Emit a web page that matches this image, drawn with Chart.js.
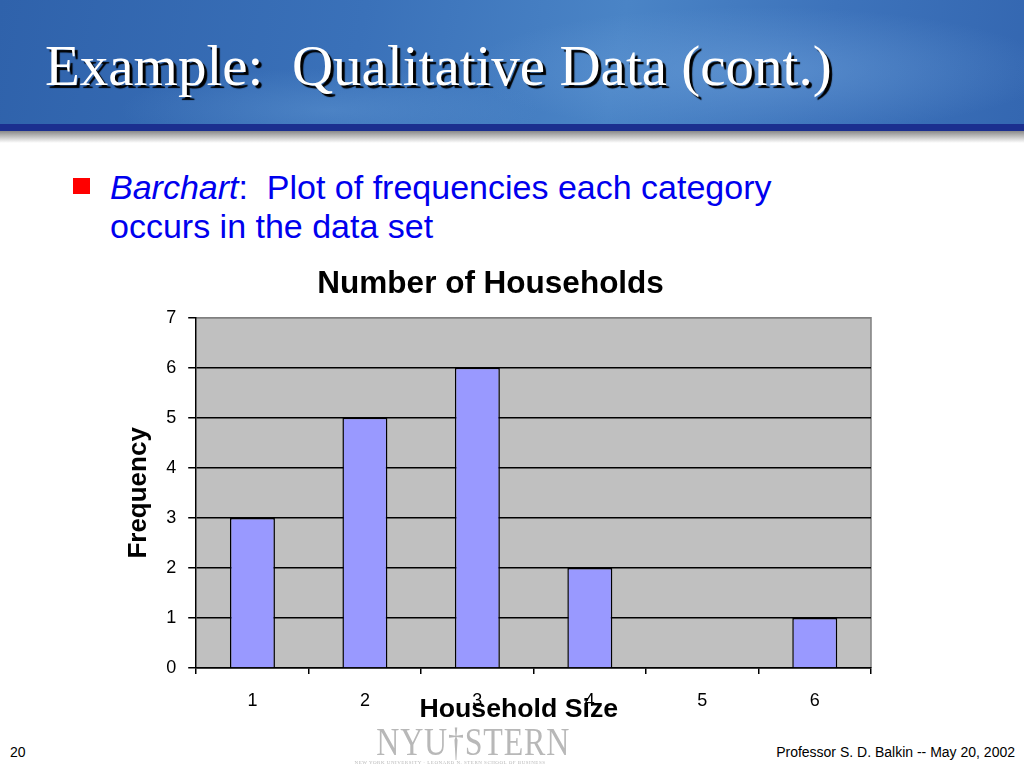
<!DOCTYPE html>
<html>
<head>
<meta charset="utf-8">
<script src="https://cdn.jsdelivr.net/npm/chart.js@4"></script>
<style>
  html, body { margin: 0; padding: 0; }
  body { width: 1024px; height: 768px; position: relative; overflow: hidden; background: #fff; font-family: Arial, "Liberation Sans", sans-serif; }
  #header { position: absolute; left: 0; top: 0; width: 1024px; height: 124px;
    background:
      radial-gradient(ellipse 420px 90px at 760px 70px, rgba(120,170,225,0.45), rgba(120,170,225,0) 70%),
      radial-gradient(ellipse 300px 60px at 330px 110px, rgba(110,165,220,0.35), rgba(110,165,220,0) 70%),
      linear-gradient(100deg, #2f62ab 0%, #3a71b9 35%, #4a84c6 60%, #3d73bb 80%, #3467b1 100%); }
  #band { position: absolute; left: 0; top: 124px; width: 1024px; height: 7px; background: #1b2f8f; }
  #shadow { position: absolute; left: 0; top: 131px; width: 1024px; height: 12px; background: linear-gradient(#8a8a8a, #ffffff); }
  #title { position: absolute; left: 45px; top: 33px; margin: 0; font-family: "Liberation Serif", "Times New Roman", serif;
    font-weight: normal; font-size: 57px; color: #fff; text-shadow: 3px 3px 1px #000; white-space: pre; }
  #bullet { position: absolute; left: 73px; top: 178px; width: 17px; height: 16px; background: #ff0000; }
  #text { position: absolute; left: 110px; top: 168px; font-size: 34px; line-height: 39px; color: #0000ee; }
  #wrap { position: absolute; left: 104px; top: 262px; width: 770px; height: 468px; }
  #pagenum { position: absolute; left: 10px; top: 744px; font-size: 14px; color: #000; }
  #credit { position: absolute; right: 9px; top: 744px; font-size: 14px; color: #000; }
  #logo { position: absolute; left: 352px; top: 724px; width: 196px; text-align: center; color: #b8b8b8; font-family: "Liberation Serif", serif; }
  #logo .big { font-size: 40px; line-height: 36px; letter-spacing: 1px; transform: scaleX(0.8); display: inline-block; }
  #logo .small { font-size: 5px; letter-spacing: 0.5px; line-height: 6px; }
</style>
</head>
<body>
<div id="header"></div>
<div id="band"></div>
<div id="shadow"></div>
<h1 id="title">Example:  Qualitative Data (cont.)</h1>
<div id="bullet"></div>
<div id="text"><i>Barchart</i>:&nbsp; Plot of frequencies each category<br>occurs in the data set</div>
<div id="wrap"><canvas id="myChart"></canvas></div>
<div id="pagenum">20</div>
<div id="logo"><div class="big">NYU&#x2020;STERN</div><div class="small">NEW YORK UNIVERSITY · LEONARD N. STERN SCHOOL OF BUSINESS</div></div>
<div id="credit">Professor S. D. Balkin -- May 20, 2002</div>

<script>
// household size categories and how often each one occurs
const labels = ["1", "2", "3", "4", "5", "6"];
const frequency = [3, 5, 6, 2, 0, 1];
const yTicks = [0, 1, 2, 3, 4, 5, 6, 7];

// grey plot area, darker edge on top/right like the old excel charts
const plotBack = {
  id: 'plotBack',
  beforeDraw(chart) {
    const a = chart.chartArea;
    const ctx = chart.ctx;
    ctx.save();
    ctx.fillStyle = '#c0c0c0';
    ctx.fillRect(a.left, a.top, a.right - a.left, a.bottom - a.top);
    ctx.strokeStyle = '#808080';
    ctx.lineWidth = 1.5;
    ctx.beginPath();
    ctx.moveTo(a.left, a.top);
    ctx.lineTo(a.right, a.top);
    ctx.lineTo(a.right, a.bottom);
    ctx.stroke();
    ctx.restore();
  }
};

var data = {
  labels: labels,
  datasets: [{
    label: 'Frequency',
    data: frequency,
    backgroundColor: '#9999ff',
    borderColor: '#000',
    borderWidth: 1.5,
    barPercentage: 0.4,
    categoryPercentage: 1
  }]
};

var config = {
  type: 'bar',
  data: data,
  plugins: [plotBack],
  options: {
    responsive: true,
    maintainAspectRatio: false,
    animation: false,
    layout: { padding: { left: 15, right: 3, top: 0, bottom: 0 } },
    plugins: {
      legend: { display: false },
      tooltip: { enabled: false },
      title: {
        display: true,
        text: 'Number of Households\u00a0',
        color: '#000',
        font: { family: 'Arial', size: 31.5, weight: 'bold' },
        padding: { top: 3, bottom: 15 }
      }
    },
    scales: {
      x: {
        grid: { offset: true, drawOnChartArea: false, color: '#000', lineWidth: 1.5, tickLength: 6 },
        border: { color: '#000', width: 1.5 },
        ticks: { color: '#000', font: { family: 'Arial', size: 18 }, padding: 16 },
        title: {
          display: true,
          // trailing spaces pull the title a bit left of the axis centre, as in the original
          text: 'Household Size\u00a0\u00a0\u00a0\u00a0',
          color: '#000',
          font: { family: 'Arial', size: 26.7, weight: 'bold' },
          padding: { top: -33.6, bottom: 4 }
        }
      },
      y: {
        min: 0,
        max: 7,
        afterBuildTicks(scale) { scale.ticks = yTicks.map(v => ({ value: v })); },
        grid: {
          color: c => (c.tick && c.tick.value === 7) ? '#808080' : '#000',
          tickColor: '#000',
          lineWidth: 1.5,
          tickLength: 8
        },
        border: { color: '#000', width: 1.5 },
        ticks: { color: '#000', font: { family: 'Arial', size: 18 }, padding: 12 },
        title: {
          display: true,
          text: 'Frequency',
          color: '#000',
          font: { family: 'Arial', size: 26, weight: 'bold' },
          padding: { top: 4, bottom: 0 }
        }
      }
    }
  }
};

var myChart = new Chart(document.getElementById('myChart'), config);
</script>
</body>
</html>
